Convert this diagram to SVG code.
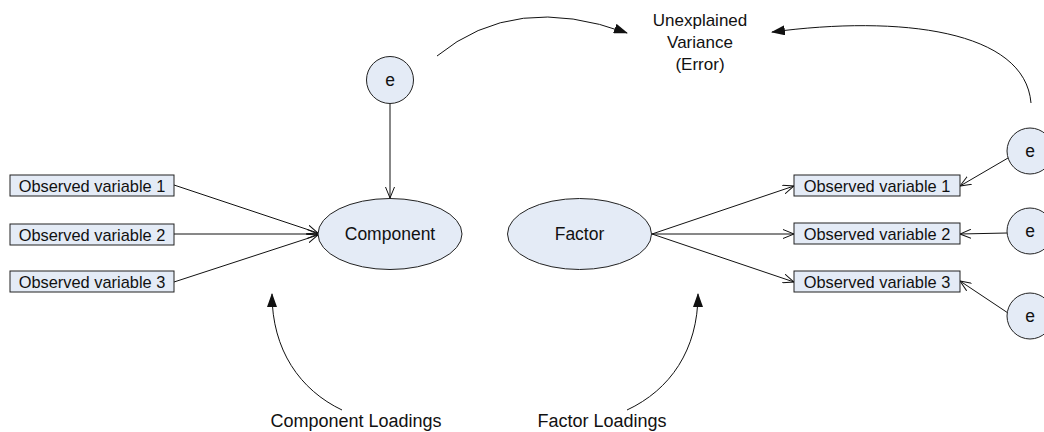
<svg xmlns="http://www.w3.org/2000/svg" width="1044" height="432" viewBox="0 0 1044 432">
  <style>
    .node { fill: #e4ebf6; stroke: #222; stroke-width: 1; }
    .lbl { font-family: "Liberation Sans", Arial, sans-serif; font-size: 16.4px; fill: #111; text-anchor: middle; dominant-baseline: central; }
    .big { font-size: 17.5px; }
    .cap { font-family: "Liberation Sans", Arial, sans-serif; font-size: 17px; fill: #111; text-anchor: middle; }
    .cap2 { font-size: 18px; }
    .edge { fill: none; stroke: #111; stroke-width: 1; }
    .open { marker-end: url(#open); }
    .solid { marker-end: url(#solid); }
  </style>
  <defs>
    <marker id="open" viewBox="0 0 12 10" refX="11" refY="5" markerWidth="12" markerHeight="10" markerUnits="userSpaceOnUse" orient="auto">
      <path d="M0,0.5 L11,5 L0,9.5" fill="none" stroke="#111" stroke-width="1"/>
    </marker>
    <marker id="solid" viewBox="0 0 14 10" refX="13" refY="5" markerWidth="14" markerHeight="10" markerUnits="userSpaceOnUse" orient="auto">
      <path d="M0,0 L14,5 L0,10 Z" fill="#111"/>
    </marker>
  </defs>

  <!-- connectors -->
  <g id="connectors">
    <!-- observed variables into the component -->
    <line class="edge open" x1="174" y1="185" x2="318" y2="233"/>
    <line class="edge open" x1="174" y1="234" x2="318" y2="234"/>
    <line class="edge open" x1="174" y1="282" x2="318" y2="235"/>
    <!-- error term into the component -->
    <line class="edge open" x1="390" y1="103" x2="390" y2="198"/>
    <!-- factor out to observed variables -->
    <line class="edge open" x1="652" y1="234" x2="794" y2="186"/>
    <line class="edge open" x1="652" y1="234" x2="794" y2="234"/>
    <line class="edge open" x1="652" y1="234" x2="794" y2="282"/>
    <!-- error terms into observed variables -->
    <line class="edge open" x1="1008" y1="158" x2="960" y2="186"/>
    <line class="edge open" x1="1007" y1="233" x2="960" y2="234"/>
    <line class="edge open" x1="1008" y1="313" x2="960" y2="281"/>
    <!-- curved call-outs -->
    <path class="edge solid" d="M437,56 Q515,-8 627,33"/>
    <path class="edge solid" d="M1031,103 C1025,30 900,15 772,32"/>
    <path class="edge solid" d="M342,410 C300,390 272,350 272,294"/>
    <path class="edge solid" d="M627,410 C670,390 698,350 698,294"/>
  </g>

  <!-- left side: principal component model -->
  <g id="pca-obs1">
    <rect class="node" x="10" y="175" width="164" height="21"/>
    <text class="lbl" x="92" y="185.5">Observed variable 1</text>
  </g>
  <g id="pca-obs2">
    <rect class="node" x="10" y="224" width="164" height="21"/>
    <text class="lbl" x="92" y="234.5">Observed variable 2</text>
  </g>
  <g id="pca-obs3">
    <rect class="node" x="10" y="271" width="164" height="21"/>
    <text class="lbl" x="92" y="281.5">Observed variable 3</text>
  </g>
  <g id="component">
    <ellipse class="node" cx="390" cy="234" rx="72" ry="35.5"/>
    <text class="lbl big" x="390" y="234">Component</text>
  </g>
  <g id="pca-error">
    <circle class="node" cx="390" cy="80" r="23.5"/>
    <text class="lbl big" x="390" y="80">e</text>
  </g>

  <!-- right side: common factor model -->
  <g id="factor">
    <ellipse class="node" cx="579.5" cy="234" rx="72" ry="35.5"/>
    <text class="lbl big" x="579.5" y="234">Factor</text>
  </g>
  <g id="fa-obs1">
    <rect class="node" x="794" y="175" width="166" height="21"/>
    <text class="lbl" x="877" y="185.5">Observed variable 1</text>
  </g>
  <g id="fa-obs2">
    <rect class="node" x="794" y="223" width="166" height="21"/>
    <text class="lbl" x="877" y="233.5">Observed variable 2</text>
  </g>
  <g id="fa-obs3">
    <rect class="node" x="794" y="271" width="166" height="21"/>
    <text class="lbl" x="877" y="281.5">Observed variable 3</text>
  </g>
  <g id="fa-error1">
    <circle class="node" cx="1030" cy="151" r="23"/>
    <text class="lbl big" x="1030" y="151">e</text>
  </g>
  <g id="fa-error2">
    <circle class="node" cx="1030" cy="231" r="23"/>
    <text class="lbl big" x="1030" y="231">e</text>
  </g>
  <g id="fa-error3">
    <circle class="node" cx="1030" cy="316" r="23"/>
    <text class="lbl big" x="1030" y="316">e</text>
  </g>

  <!-- captions -->
  <g id="error-caption">
    <text class="cap" x="700" y="26">Unexplained</text>
    <text class="cap" x="700" y="48">Variance</text>
    <text class="cap" x="700" y="70">(Error)</text>
  </g>
  <g id="component-caption">
    <text class="cap cap2" x="356" y="427">Component Loadings</text>
  </g>
  <g id="factor-caption">
    <text class="cap cap2" x="602" y="427">Factor Loadings</text>
  </g>
</svg>
